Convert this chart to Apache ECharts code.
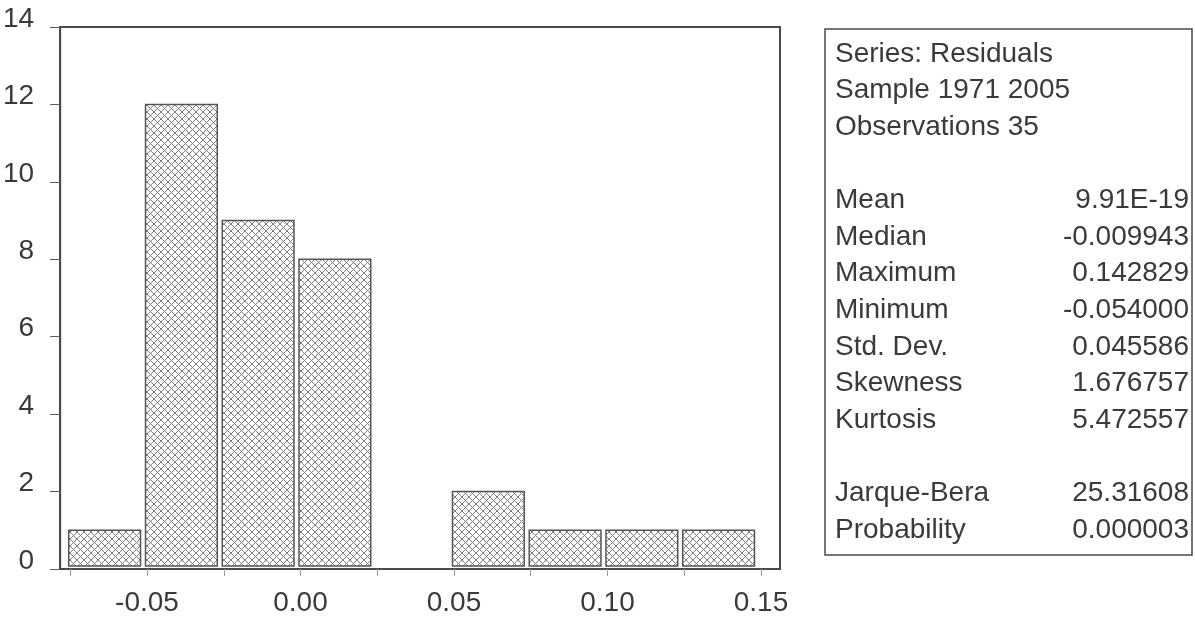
<!DOCTYPE html>
<html>
<head>
<meta charset="utf-8">
<script src="https://cdn.jsdelivr.net/npm/echarts@6/dist/echarts.min.js"></script>
<style>
  html, body { margin: 0; padding: 0; background: #ffffff; }
  #chart { width: 1195px; height: 617px; }
</style>
</head>
<body>
<div id="chart"></div>
<script>
// Histogram of residuals: bin starts, common bin width and counts per bin
const binStarts = [-0.075, -0.05, -0.025, 0.0, 0.025, 0.05, 0.075, 0.10, 0.125];
const binWidth = 0.025;
const counts = [1, 12, 9, 8, 0, 2, 1, 1, 1];

// Axis ticks and labels
const xLabelValues = [-0.05, 0.0, 0.05, 0.10, 0.15];
const xTickValues = [-0.075, -0.05, -0.025, 0.0, 0.025, 0.05, 0.075, 0.10, 0.125, 0.15];
const yMax = 14;
const yStep = 2;

// Summary statistics panel
const headerLines = ['Series: Residuals', 'Sample 1971 2005', 'Observations 35'];
const statNames = ['Mean', 'Median', 'Maximum', 'Minimum', 'Std. Dev.', 'Skewness', 'Kurtosis'];
const statValues = ['9.91E-19', '-0.009943', '0.142829', '-0.054000', '0.045586', '1.676757', '5.472557'];
const testNames = ['Jarque-Bera', 'Probability'];
const testValues = ['25.31608', '0.000003'];

const FONT_FAMILY = '"Liberation Sans", Arial, Helvetica, sans-serif';
const TEXT_COLOR = '#3a3a3a';
const LINE_COLOR = '#4a4a4a';
const FONT_SIZE = 28;

// Cross-hatch fill used inside the bars
function makeHatch() {
  const s = 7;
  const c = document.createElement('canvas');
  c.width = s; c.height = s;
  const g = c.getContext('2d');
  g.fillStyle = '#ffffff';
  g.fillRect(0, 0, s, s);
  g.strokeStyle = '#7e7e7e';
  g.lineWidth = 1;
  g.beginPath();
  g.moveTo(-1, -1); g.lineTo(s + 1, s + 1);
  g.moveTo(s + 1, -1); g.lineTo(-1, s + 1);
  g.stroke();
  return c;
}
const hatch = makeHatch();

const histData = binStarts.map((b, i) => [b, +(b + binWidth).toFixed(3), counts[i]]);

// Rows of the statistics panel (null = blank spacer row)
const panelRows = [];
headerLines.forEach(t => panelRows.push({ left: t, right: '' }));
panelRows.push(null);
statNames.forEach((t, i) => panelRows.push({ left: t, right: statValues[i] }));
panelRows.push(null);
testNames.forEach((t, i) => panelRows.push({ left: t, right: testValues[i] }));

const panel = { x: 825, y: 29, w: 367, h: 526, firstRow: 54, rowH: 36.6, textLeft: 835, textRight: 1189 };
const panelFont = FONT_SIZE + 'px ' + FONT_FAMILY;

const graphics = [{
  type: 'rect',
  shape: { x: panel.x, y: panel.y, width: panel.w, height: panel.h },
  style: { fill: 'none', stroke: LINE_COLOR, lineWidth: 1.5 },
  silent: true
}];
panelRows.forEach((row, i) => {
  if (!row) return;
  const y = panel.firstRow + i * panel.rowH;
  graphics.push({
    type: 'text', x: panel.textLeft, y: y, silent: true,
    style: { text: row.left, font: panelFont, fill: TEXT_COLOR, textAlign: 'left', textVerticalAlign: 'middle' }
  });
  if (row.right) {
    graphics.push({
      type: 'text', x: panel.textRight, y: y, silent: true,
      style: { text: row.right, font: panelFont, fill: TEXT_COLOR, textAlign: 'right', textVerticalAlign: 'middle' }
    });
  }
});

const chart = echarts.init(document.getElementById('chart'), null, { renderer: 'canvas' });
chart.setOption({
  backgroundColor: '#ffffff',
  animation: false,
  grid: {
    left: 60, right: 415, top: 27, bottom: 47,
    show: true, borderColor: LINE_COLOR, borderWidth: 2, backgroundColor: '#ffffff'
  },
  xAxis: {
    type: 'value',
    min: -0.0783,
    max: 0.1562,
    splitLine: { show: false },
    axisLine: { show: true, onZero: false, lineStyle: { color: LINE_COLOR, width: 2 } },
    axisTick: { show: true, customValues: xTickValues, length: 7, lineStyle: { color: '#9a9a9a', width: 1 } },
    axisLabel: {
      customValues: xLabelValues,
      formatter: v => v.toFixed(2),
      fontSize: FONT_SIZE, fontFamily: FONT_FAMILY, color: TEXT_COLOR, margin: 20
    }
  },
  yAxis: {
    type: 'value',
    min: 0,
    max: yMax,
    interval: yStep,
    splitLine: { show: false },
    axisLine: { show: true, onZero: false, lineStyle: { color: LINE_COLOR, width: 2 } },
    axisTick: { show: true, length: 10, lineStyle: { color: '#5a5a5a', width: 1 } },
    axisLabel: {
      fontSize: FONT_SIZE, fontFamily: FONT_FAMILY, color: TEXT_COLOR, margin: 26,
      verticalAlign: 'bottom', lineHeight: 16
    }
  },
  series: [{
    type: 'custom',
    data: histData,
    encode: { x: [0, 1], y: 2 },
    renderItem: function (params, api) {
      const c = api.value(2);
      if (!c) return null;
      const pTop = api.coord([api.value(0), c]);
      const pBot = api.coord([api.value(1), 0]);
      return {
        type: 'rect',
        shape: { x: pTop[0] - 1.5, y: pTop[1], width: pBot[0] - pTop[0] - 5, height: pBot[1] - pTop[1] - 3 },
        style: { fill: { image: hatch, repeat: 'repeat' }, stroke: '#555555', lineWidth: 1.5 }
      };
    }
  }],
  graphic: graphics
});
</script>
</body>
</html>
